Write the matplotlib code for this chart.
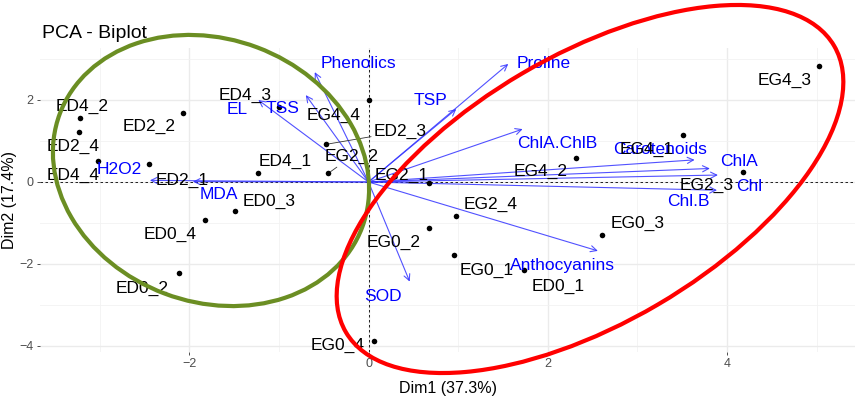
import matplotlib
matplotlib.use('Agg')
import matplotlib.pyplot as plt
from matplotlib.patches import Ellipse

plt.rcParams['font.family'] = ['Liberation Sans', 'DejaVu Sans']

# ---- data: individuals (scores) ----
samples = ['ED4_2', 'ED2_4', 'ED4_4', 'ED2_2', 'ED2_1', 'ED4_1', 'ED4_3', 'EG4_4',
           'ED2_3', 'EG2_2', 'EG2_1', 'ED0_3', 'ED0_4', 'ED0_2', 'EG0_4', 'EG0_2',
           'EG0_1', 'ED0_1', 'EG2_4', 'EG0_3', 'EG4_2', 'EG4_1', 'EG2_3', 'EG4_3']
dim1 = [-3.22, -3.23, -3.02, -2.07, -2.45, -1.23, -1.00, 0.00,
        -0.47, -0.45, 0.67, -1.49, -1.82, -2.12, 0.065, 0.67,
        0.95, 1.74, 0.98, 2.61, 2.32, 3.51, 4.18, 5.03]
dim2 = [1.55, 1.23, 0.51, 1.68, 0.43, 0.21, 1.84, 2.00,
        0.92, 0.21, -0.03, -0.71, -0.93, -2.23, -3.89, -1.11,
        -1.78, -2.15, -0.82, -1.29, 0.58, 1.15, 0.25, 2.83]

# ---- data: variables (loadings arrows) ----
variables = ['Phenolics', 'EL', 'TSS', 'H2O2', 'MDA', 'SOD', 'TSP', 'Proline',
             'ChlA.ChlB', 'Carotenoids', 'ChlA', 'Chl', 'Chl.B', 'Anthocyanins']
var_dim1 = [-0.60, -1.23, -0.70, -2.44, -1.96, 0.46, 0.98, 1.56,
            1.72, 3.64, 3.81, 3.90, 3.89, 2.56]
var_dim2 = [2.68, 2.00, 2.12, 0.04, 0.01, -2.43, 1.78, 2.88,
            1.29, 0.54, 0.33, 0.17, -0.20, -1.68]

x_ticks = [-2, 0, 2, 4]
y_ticks = [-4, -2, 0, 2]
title = 'PCA - Biplot'
xlabel = 'Dim1 (37.3%)'
ylabel = 'Dim2 (17.4%)'

# ---- layout: label offsets (pixels) ----
sample_offsets = [(2.5, 11.6), (-6, -15), (-25, -14), (-34, -13.4), (33, -15.7),
                  (27, 11.6), (-34, 11.5), (-35, -15.7), (74, 12.6), (23, 16.6),
                  (-27, 8.3), (34, 9.3), (-35, -14.7), (-36, -15), (-37, -3.7),
                  (-35, -14.8), (33.4, -15), (33.7, -16.7), (34.5, 10.7),
                  (34.8, 11.7), (-36, -13.4), (-36, -15), (-36, -13.3), (-35, -14)]
with_segment = {'ED2_3', 'EG2_2'}
var_offsets = [(44, 8.7), (-21, -9.5), (-23.5, -13.3), (-31, 10.5), (26, -13.3),
               (-27, -15), (-26, 9), (35, 0), (35, -14), (-35, 10), (29, 7.3),
               (31, -11.7), (-28.4, -11.7), (-35, -14.3)]

W, H = 858, 400
fig = plt.figure(figsize=(W / 100, H / 100), dpi=100)

# panel in pixels: left 40, right 855, top 48, bottom 352
pl, pr, pt, pb = 40, 855, 48, 352
ax = fig.add_axes([pl / W, 1 - pb / H, (pr - pl) / W, (pb - pt) / H])
x0, sx, y0, sy = 368.5, 89.6, 182.0, 41.0
ax.set_xlim((pl - x0) / sx, (pr - x0) / sx)
ax.set_ylim((y0 - pb) / sy, (y0 - pt) / sy)

for s in ax.spines.values():
    s.set_visible(False)
ax.set_xticks(x_ticks)
ax.set_yticks(y_ticks)
ax.set_xticks([-3, -1, 1, 3, 5], minor=True)
ax.set_yticks([-3, -1, 1, 3], minor=True)
ax.grid(which='major', color='#EBEBEB', lw=1.0)
ax.grid(which='minor', color='#F2F2F2', lw=0.6)
ax.set_axisbelow(True)
ax.tick_params(which='major', length=2.5, width=0.6, color='#333333',
               labelcolor='#4D4D4D', labelsize=9, pad=2)
ax.tick_params(which='minor', length=0)

ax.axhline(0, color='black', lw=0.6, ls=(0, (3, 3)), zorder=1)
ax.axvline(0, color='black', lw=0.6, ls=(0, (3, 3)), zorder=1)

# arrows
for name, vx, vy, (ox, oy) in zip(variables, var_dim1, var_dim2, var_offsets):
    ax.annotate('', xy=(vx, vy), xytext=(0, 0),
                arrowprops=dict(arrowstyle='->', color='#3333FF', lw=0.8, alpha=0.85,
                                shrinkA=0, shrinkB=0, mutation_scale=11), zorder=2)
    ax.annotate(name, xy=(vx, vy), xytext=(ox, oy), textcoords='offset pixels',
                ha='center', va='center', fontsize=12.5, color='#0000FF', zorder=4)

# points
ax.scatter(dim1, dim2, s=16, color='black', zorder=3, linewidths=0)
for name, px, py, (ox, oy) in zip(samples, dim1, dim2, sample_offsets):
    if name in with_segment:
        ax.annotate(name, xy=(px, py), xytext=(ox, oy), textcoords='offset pixels',
                    ha='center', va='center', fontsize=12.5, color='black', zorder=4,
                    arrowprops=dict(arrowstyle='-', color='#333333', lw=0.6,
                                    shrinkA=0, shrinkB=2))
    else:
        ax.annotate(name, xy=(px, py), xytext=(ox, oy), textcoords='offset pixels',
                    ha='center', va='center', fontsize=12.5, color='black', zorder=4)

# titles / axis labels
fig.text(42 / W, 1 - 37.7 / H, title, fontsize=14, ha='left', va='baseline')
fig.text(448 / W, 1 - 389 / H, xlabel, fontsize=11.5, ha='center', va='center')
fig.text(10 / W, 1 - 200 / H, ylabel, fontsize=11.5, ha='center', va='center',
         rotation=90)

# hand-drawn group ellipses (overlay in pixel space)
ov = fig.add_axes([0, 0, 1, 1], zorder=10)
ov.set_xlim(0, W)
ov.set_ylim(0, H)
ov.axis('off')
ov.patch.set_visible(False)
ov.add_patch(Ellipse((211, H - 170.5), 323, 263, angle=-20.6, fill=False,
                     edgecolor='#6B8E23', lw=3.0))
ov.add_patch(Ellipse((590, H - 189), 566, 268, angle=30.4, fill=False,
                     edgecolor='#FF0000', lw=3.0))

fig.savefig('out.png', dpi=100)
